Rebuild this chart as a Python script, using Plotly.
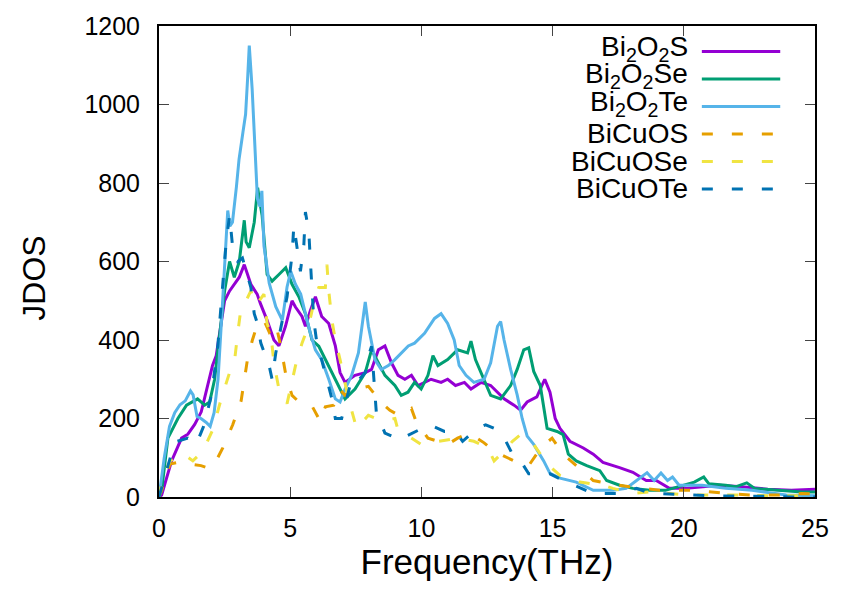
import plotly.graph_objects as go

# ---------------- data ----------------
names = ["Bi<sub>2</sub>O<sub>2</sub>S", "Bi<sub>2</sub>O<sub>2</sub>Se", "Bi<sub>2</sub>O<sub>2</sub>Te",
         "BiCuOS", "BiCuOSe", "BiCuOTe"]

f_s = [0, 0.1, 0.48, 0.86, 1.1, 1.36, 1.61, 1.86, 2.04, 2.18, 2.3, 2.5, 2.69, 2.87, 3.06, 3.25, 3.37, 3.5,
       3.74, 3.87, 4.12, 4.38, 4.57, 4.82, 5.07, 5.2, 5.45, 5.58, 5.77, 5.96, 6.2, 6.47, 6.72, 6.9, 7.09, 7.47,
       7.86, 8.1, 8.36, 8.61, 8.86, 9.11, 9.37, 9.62, 9.87, 10.37, 10.75, 11.0, 11.3, 11.64, 11.89, 12.27,
       12.64, 12.9, 13.15, 13.53, 13.78, 14.03, 14.4, 14.7, 14.9, 15.1, 15.28, 15.66, 16.17, 16.55, 16.92,
       17.55, 18.06, 18.44, 18.57, 18.95, 19.45, 20.1, 21.35, 22.2, 23.2, 24.1, 25]
v_s = [0, 5, 92, 150, 160, 185, 217, 285, 335, 360, 417, 500, 525, 542, 560, 592, 567, 542,
       517, 492, 450, 400, 385, 435, 500, 484, 460, 435, 475, 510, 460, 442, 385, 317, 292, 310,
       317, 325, 375, 385, 342, 310, 300, 310, 284, 300, 292, 300, 284, 292, 275, 292,
       284, 267, 250, 234, 221, 242, 255, 300, 267, 200, 175, 142, 125, 109, 88,
       75, 63, 47, 42, 42, 22, 22, 30, 26, 20, 17, 20]

f_se = [0, 0.1, 0.34, 0.72, 1.05, 1.24, 1.47, 1.74, 1.93, 2.12, 2.3, 2.5, 2.69, 2.87, 3.06, 3.25, 3.32, 3.44,
        3.63, 3.76, 3.82, 3.93, 4.12, 4.31, 4.57, 4.83, 5.07, 5.33, 5.58, 5.83, 6.09, 6.34, 6.59, 6.85, 7.09,
        7.47, 7.86, 8.1, 8.36, 8.61, 8.99, 9.23, 9.49, 9.74, 9.99, 10.25, 10.44, 10.63, 11.0, 11.38, 11.76,
        11.89, 12.06, 12.39, 12.64, 13.02, 13.4, 13.65, 13.9, 14.09, 14.28, 14.53, 14.79, 15.17, 15.4, 15.6,
        15.9, 16.3, 16.8, 17.06, 17.55, 18.06, 18.7, 19.3, 19.95, 20.4, 20.76, 20.95, 21.6, 21.97, 22.4, 22.7,
        23.6, 24.5, 25]
v_se = [0, 17, 150, 200, 234, 242, 250, 234, 242, 300, 400, 525, 600, 560, 600, 705, 650, 635,
        700, 788, 760, 717, 567, 550, 567, 584, 542, 510, 467, 400, 384, 350, 317, 284, 250,
        275, 317, 375, 342, 310, 284, 259, 267, 292, 275, 310, 360, 335, 350, 375, 367,
        397, 350, 300, 259, 250, 284, 325, 375, 380, 320, 284, 175, 167, 159, 109,
        92, 80, 67, 42, 30, 22, 17, 17, 30, 38, 51, 34, 30, 26, 36, 22,
        17, 13, 13]

f_te = [0, 0.2, 0.4, 0.6, 0.8, 1.0, 1.2, 1.3, 1.45, 1.6, 1.8, 1.95, 2.1, 2.25, 2.4, 2.55, 2.62, 2.7, 2.8,
        2.95, 3.05, 3.2, 3.3, 3.38, 3.44, 3.55, 3.65, 3.75, 3.85, 3.92, 4.0, 4.2, 4.45, 4.7, 4.88, 5.02, 5.2,
        5.4, 5.58, 5.77, 5.96, 6.2, 6.47, 6.72, 6.9, 7.09, 7.34, 7.6, 7.8, 7.86, 7.98, 8.23, 8.47, 8.74, 8.99,
        9.23, 9.5, 9.74, 10.12, 10.5, 10.75, 11.0, 11.25, 11.44, 11.7, 12.0, 12.39, 12.64, 12.9, 13.02, 13.15,
        13.4, 13.65, 13.84, 14.03, 14.28, 14.66, 14.9, 15.28, 15.9, 16.55, 17.3, 17.8, 18.2, 18.6, 18.87,
        19.13, 19.38, 19.57, 19.82, 20.7, 21.6, 22.6, 23.9, 25]
v_te = [0, 100, 180, 215, 235, 245, 270, 260, 205, 200, 190, 180, 215, 300, 470, 640, 730, 690, 700,
        790, 860, 930, 975, 1070, 1150, 1040, 900, 760, 740, 780, 640, 545, 485, 450, 535, 575, 542,
        517, 467, 417, 375, 350, 300, 250, 242, 275, 310, 367, 467, 497, 435, 350, 325, 335, 350,
        367, 385, 392, 417, 455, 467, 442, 400, 335, 310, 292, 300, 342, 435, 447, 400,
        325, 260, 200, 155, 134, 92, 60, 48, 38, 17, 17, 22, 42, 62, 42,
        61, 42, 51, 30, 30, 22, 17, 5, 3]

f_cs = [0, 0.1, 0.42, 0.86, 1.2, 1.6, 1.95, 2.2, 2.43, 2.81, 3.13, 3.37, 3.56, 3.75, 4.0, 4.2, 4.45, 4.64,
        4.85, 5.07, 5.45, 5.83, 6.15, 6.34, 6.66, 6.88, 7.09, 7.4, 7.72, 7.98, 8.45, 8.8, 9.11, 9.4, 9.62,
        9.8, 10.25, 11.0, 11.38, 11.82, 12.39, 12.77, 13.28, 13.78, 14.09, 14.4, 14.7, 14.98, 15.4, 15.9,
        16.55, 17.17, 17.93, 18.5, 19.07, 19.7, 20.5, 21.6, 22.6, 23.6, 24.5, 25]
v_cs = [0, 17, 84, 90, 84, 80, 72, 95, 125, 184, 245, 350, 400, 440, 450, 420, 442, 384,
        305, 259, 235, 232, 192, 230, 234, 275, 259, 280, 278, 282, 242, 221, 209, 212, 225,
        192, 150, 134, 150, 163, 138, 117, 100, 84, 80, 110, 134, 150, 109, 80,
        42, 34, 26, 22, 17, 17, 17, 9, 5, 5, 9, 8]

f_cse = [0, 0.15, 0.42, 0.9, 1.29, 1.67, 2.04, 2.37, 2.69, 2.87, 3.0, 3.13, 3.32, 3.5, 3.69, 4.0, 4.12, 4.26,
         4.38, 4.57, 4.88, 5.2, 5.45, 5.71, 5.96, 6.09, 6.34, 6.4, 6.47, 6.59, 6.72, 6.9, 7.22, 7.53, 7.98,
         8.28, 8.61, 8.99, 9.11, 9.42, 9.99, 10.63, 11.38, 12.0, 12.52, 12.77, 13.15, 13.47, 13.78, 14.03,
         14.28, 14.79, 15.28, 16.04, 16.92, 17.3, 18.06, 18.7, 20.2, 22.0, 23.5, 25]
v_cse = [0, 50, 92, 111, 92, 117, 170, 250, 317, 342, 417, 484, 500, 525, 488, 517, 442, 417,
         342, 275, 238, 334, 392, 438, 513, 534, 534, 592, 525, 450, 400, 350, 250, 175, 208,
         200, 196, 200, 170, 159, 134, 142, 150, 142, 126, 92, 117, 142, 159, 150,
         134, 84, 55, 38, 30, 22, 9, 13, 5, 5, 3, 3]

f_cte = [0, 0.15, 0.6, 1.1, 1.42, 1.7, 2.0, 2.24, 2.43, 2.56, 2.69, 2.81, 3.0, 3.18, 3.5, 3.63, 3.75, 3.88,
         4.2, 4.31, 4.45, 4.65, 4.88, 5.07, 5.14, 5.39, 5.52, 5.58, 5.71, 5.77, 5.83, 5.9, 6.0, 6.2, 6.4,
         6.59, 6.72, 6.96, 7.34, 7.53, 7.86, 7.98, 8.1, 8.28, 8.61, 9.04, 9.11, 9.68, 10.31, 10.88, 11.3,
         11.57, 12.14, 12.45, 12.77, 13.09, 13.47, 13.78, 14.09, 14.9, 15.54, 16.55, 17.55, 18.2, 18.57,
         19.07, 20.1, 21.1, 22.3, 23.2, 24.3, 25]
v_cte = [0, 34, 140, 150, 134, 180, 260, 384, 542, 650, 717, 634, 600, 609, 534, 467, 442, 392,
         334, 300, 367, 430, 510, 617, 692, 575, 642, 726, 675, 600, 525, 450, 400, 350, 300,
         250, 200, 200, 300, 292, 317, 359, 384, 217, 163, 150, 145, 163, 184, 167, 167,
         142, 175, 184, 175, 159, 109, 92, 59, 59, 38, 9, 9, 22, 13,
         9, 5, 3, 2, 2, 0, 0]

xs = [f_s, f_se, f_te, f_cs, f_cse, f_cte]
ys = [v_s, v_se, v_te, v_cs, v_cse, v_cte]

x_ticks = [0, 5, 10, 15, 20, 25]
y_ticks = [0, 200, 400, 600, 800, 1000, 1200]

# ---------------- styles ----------------
colors = ["#9400d3", "#009e73", "#56b4e9", "#e69f00", "#f0e442", "#0072b2"]
dashes = ["solid", "solid", "solid", "11px,19px", "11px,19px", "11px,19px"]
FONT = "Liberation Sans, Arial, sans-serif"

fig = go.Figure()
for x, y, c, d, n in zip(xs, ys, colors, dashes, names):
    fig.add_trace(go.Scatter(x=x, y=y, mode="lines", name=n,
                             line=dict(color=c, width=3, dash=d), showlegend=False))

# gnuplot-style key: right-aligned text followed by a line sample
row_y = [0.9458, 0.8875, 0.829, 0.7708, 0.7125, 0.654]
text_shift = [0.007, 0.007, 0.007, 0.0, 0.0, 0.0]   # subscripted labels have a taller box
for n, c, d, ry, ts in zip(names, colors, dashes, row_y, text_shift):
    fig.add_annotation(x=0.809, y=ry + ts, xref="paper", yref="paper", text=n, showarrow=False,
                       xanchor="right", yanchor="middle", font=dict(size=28, color="black", family=FONT))
    fig.add_shape(type="line", xref="paper", yref="paper", x0=0.8275, x1=0.947, y0=ry, y1=ry,
                  line=dict(color=c, width=3, dash=d))

# y-axis label placed like gnuplot's (slightly below the plot centre)
fig.add_annotation(x=-0.191, y=0.465, xref="paper", yref="paper", text="JDOS", showarrow=False,
                   textangle=-90, xanchor="center", yanchor="middle",
                   font=dict(size=32, color="black", family=FONT))

axis_common = dict(showgrid=False, zeroline=False, showline=True, linecolor="black", linewidth=2,
                   mirror="ticks", ticks="inside", ticklen=10, tickwidth=1, tickcolor="#444",
                   tickfont=dict(size=25, color="black", family=FONT))

fig.update_xaxes(range=[0, 25], tickvals=x_ticks, ticklabelstandoff=8,
                 title=dict(text="Frequency(THz)", font=dict(size=35, color="black", family=FONT), standoff=8),
                 **axis_common)
fig.update_yaxes(range=[0, 1200], tickvals=y_ticks, ticklabelstandoff=12, **axis_common)

fig.update_layout(width=841, height=593, margin=dict(l=159, r=21, t=17, b=96),
                  plot_bgcolor="white", paper_bgcolor="white")

fig.write_html("out.html")
